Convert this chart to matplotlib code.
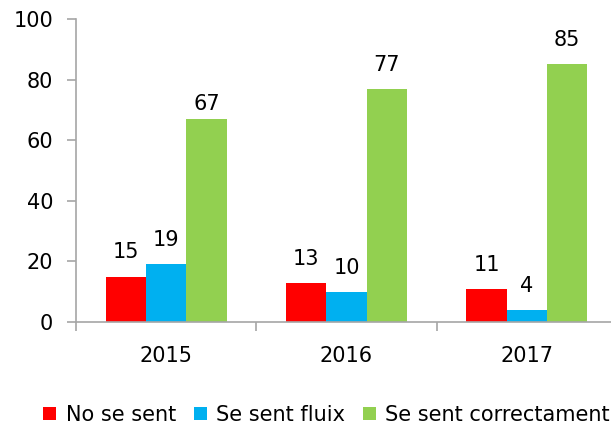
import matplotlib
matplotlib.use("Agg")
import matplotlib.pyplot as plt
import numpy as np
from matplotlib.patches import Patch

categories = ["2015", "2016", "2017"]
series_names = ["No se sent", "Se sent fluix", "Se sent correctament"]
no_se_sent = [15, 13, 11]
se_sent_fluix = [19, 10, 4]
se_sent_correctament = [67, 77, 85]
colors = ["#FF0000", "#00B0F0", "#92D050"]

plt.rcParams['font.family'] = ['DejaVu Sans']
FS = 15

fig = plt.figure(figsize=(6.11, 4.24), dpi=100)
W, H = 611, 424
left, right, top, bottom = 76, 617, 19, 322
ax = fig.add_axes([left / W, 1 - bottom / H, (right - left) / W, (bottom - top) / H])

x = np.arange(len(categories))
bw = 0.2233
all_series = [no_se_sent, se_sent_fluix, se_sent_correctament]
# label offset (points) above bar top; one label in the original sits closer
special_offset = {(2, 0): 6.5}
for i, (vals, c) in enumerate(zip(all_series, colors)):
    pos = x + (i - 1) * bw
    ax.bar(pos, vals, width=bw, color=c, edgecolor='none', zorder=2)
    for j, (p, v) in enumerate(zip(pos, vals)):
        off = special_offset.get((i, j), 13)
        ax.annotate(str(v), (p, v), xytext=(0, off), textcoords='offset points',
                    ha='center', va='baseline', fontsize=FS, color='#000000')

ax.set_xlim(-0.5, 2.5)
ax.set_ylim(0, 100)
ax.set_yticks([0, 20, 40, 60, 80, 100])
ax.set_xticks(x)
ax.set_xticklabels(categories)
ax.set_xticks([-0.5, 0.5, 1.5, 2.5], minor=True)
ax.tick_params(axis='x', which='major', length=0, pad=17, labelsize=FS)
ax.tick_params(axis='x', which='minor', length=6.5, width=1.2, color='#A6A6A6', direction='out')
ax.tick_params(axis='y', length=6.5, width=1.2, color='#A6A6A6', direction='out', pad=10, labelsize=FS)

for s in ['top', 'right']:
    ax.spines[s].set_visible(False)
for s in ['left', 'bottom']:
    ax.spines[s].set_color('#A6A6A6')
    ax.spines[s].set_linewidth(1.2)

handles = [Patch(facecolor=c, edgecolor='none', label=n) for c, n in zip(colors, series_names)]
fig.legend(handles=handles, loc='center', bbox_to_anchor=(0.5344, 1 - 415 / H), ncol=3,
           frameon=False, fontsize=FS, handlelength=0.62, handleheight=0.62,
           handletextpad=0.45, columnspacing=0.85, borderaxespad=0, borderpad=0)

fig.savefig("out.png", dpi=100)
